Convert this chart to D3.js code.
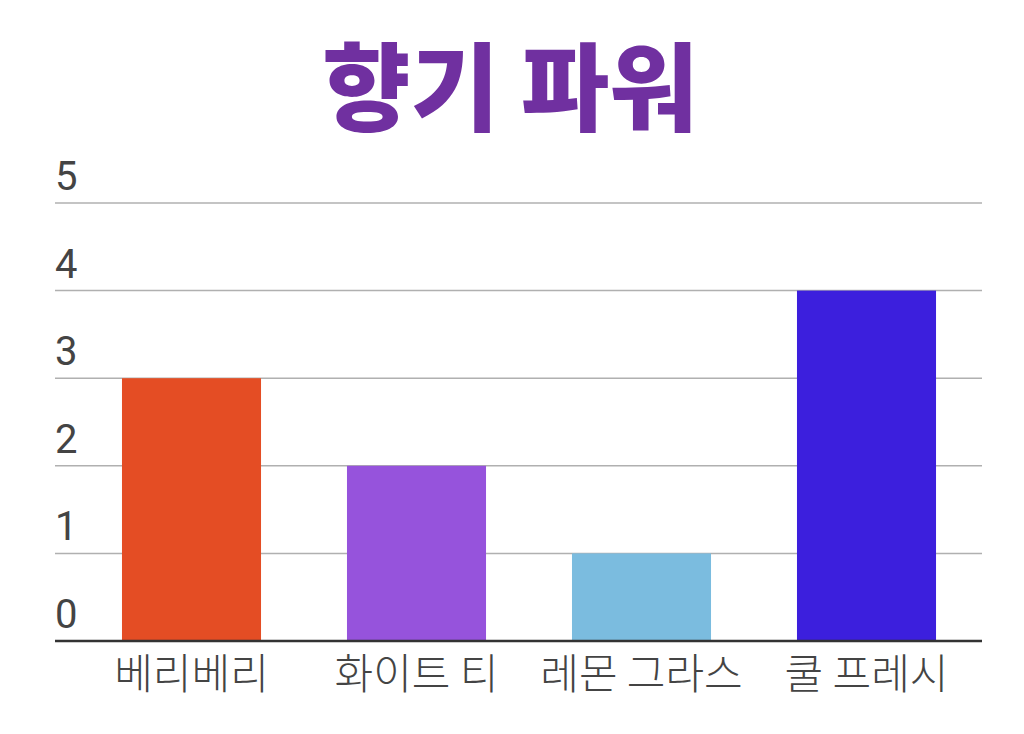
<!DOCTYPE html>
<html><head><meta charset="utf-8">
<script src="https://cdn.jsdelivr.net/npm/d3@7"></script>
<style>html,body{margin:0;padding:0;background:#fff;}</style>
</head><body>
<svg id="chart" width="1024" height="734"></svg>
<script>
const title = "향기 파워";
const categories = ["베리베리", "화이트 티", "레몬 그라스", "쿨 프레시"];
const values = [3, 2, 1, 4];
const colors = ["#E44D24", "#9653DC", "#7BBCDF", "#3C1FDD"];
const yTicks = [0, 1, 2, 3, 4, 5];

(function () {
const svg = d3.select("#chart");
const mLeft = 55, mRight = 982, mTop = 203, mBottom = 641;

const x = d3.scaleBand().domain(categories).range([79, 979]).paddingInner(0.382).paddingOuter(0.191);
const y = d3.scaleLinear().domain([0, 5]).range([mBottom, mTop]);

svg.append("text").attr("x", 510).attr("y", 123).attr("text-anchor", "middle")
  .attr("font-family", "'Noto Sans CJK KR'").attr("font-weight", 900).attr("font-size", 96)
  .attr("fill", "#7030A0").text(title);

svg.append("g").selectAll("line").data(yTicks.filter(d => d > 0)).join("line")
  .attr("x1", mLeft).attr("x2", mRight).attr("y1", d => y(d)).attr("y2", d => y(d))
  .attr("stroke", "#b0b0b0").attr("stroke-width", 1.5);

svg.append("g").selectAll("text").data(yTicks).join("text")
  .attr("x", 55).attr("y", d => y(d) - 13)
  .attr("font-family", "Roboto").attr("font-weight", 400).attr("font-size", 40).attr("fill", "#444")
  .text(d => d);

svg.append("g").selectAll("rect").data(values).join("rect")
  .attr("x", (d, i) => x(categories[i])).attr("width", x.bandwidth())
  .attr("y", d => y(d)).attr("height", d => y(0) - y(d))
  .attr("fill", (d, i) => colors[i]);

svg.append("line").attr("x1", mLeft).attr("x2", mRight).attr("y1", y(0)).attr("y2", y(0))
  .attr("stroke", "#333").attr("stroke-width", 2.5);

svg.append("g").selectAll("text").data(categories).join("text")
  .attr("x", d => x(d) + x.bandwidth() / 2).attr("y", 689).attr("text-anchor", "middle")
  .attr("font-family", "'Noto Sans CJK KR'").attr("font-weight", 300).attr("font-size", 42).attr("fill", "#444")
  .text(d => d);
})();
</script>
</body></html>
